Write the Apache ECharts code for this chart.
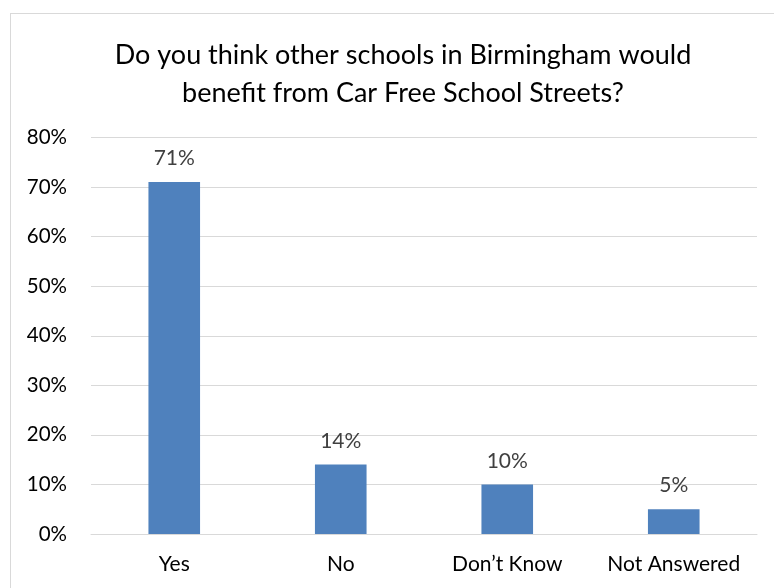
<!DOCTYPE html>
<html><head><meta charset="utf-8">
<script src="https://cdn.jsdelivr.net/npm/echarts@6/dist/echarts.min.js"></script>
<style>html,body{margin:0;padding:0;background:#fff}#frame{position:absolute;left:10px;top:13px;width:780px;height:600px;border:1px solid #d9d9d9;box-sizing:border-box}#c{position:absolute;left:0;top:0;width:774px;height:588px}</style>
</head><body>
<div id="frame"></div>
<div id="c"></div>
<script>
var categories = ["Yes", "No", "Don\u2019t Know", "Not Answered"];
var values = [71, 14, 10, 5];
var titleText = "Do you think other schools in Birmingham would\nbenefit from Car Free School Streets?";
var chart = echarts.init(document.getElementById('c'));
var font = 'Lato, "Open Sans", sans-serif';
chart.setOption({
  animation: false,
  title: {
    text: titleText, left: 398, top: 31, textAlign: 'center',
    textStyle: {fontFamily: font, fontSize: 27, fontWeight: 'normal', color: '#000', lineHeight: 38}
  },
  grid: {left: 91, right: 17, top: 137.5, bottom: 54, containLabel: false},
  xAxis: {
    type: 'category', data: categories,
    axisLine: {lineStyle: {color: '#d9d9d9', width: 1}}, axisTick: {show: false},
    axisLabel: {fontFamily: font, fontSize: 21, color: '#000', margin: 20, interval: 0, hideOverlap: false}
  },
  yAxis: {
    type: 'value', min: 0, max: 80, interval: 10,
    axisLine: {show: false}, axisTick: {show: false},
    splitLine: {lineStyle: {color: '#d9d9d9', width: 1}},
    axisLabel: {fontFamily: font, fontSize: 20.5, color: '#000', margin: 24, formatter: '{value}%'}
  },
  series: [{
    type: 'bar', data: values, barWidth: '31%',
    itemStyle: {color: '#4f81bd'},
    label: {show: true, position: 'top', distance: 13, formatter: '{c}%', fontFamily: font, fontSize: 21, color: '#404040'}
  }]
});
</script>
</body></html>
